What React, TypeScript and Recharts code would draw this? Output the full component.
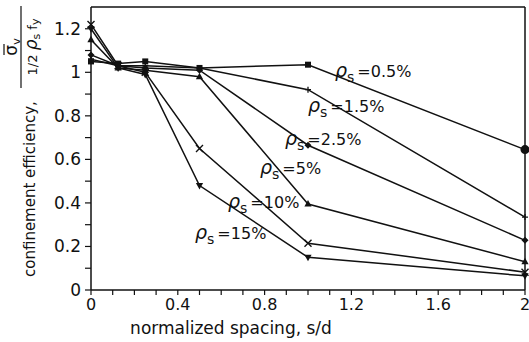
import React from 'react';
import { LineChart, Line, XAxis, YAxis, ReferenceLine } from 'recharts';

// Normalized tie spacing s/d at which confinement efficiency was evaluated
const spacing = [0, 0.125, 0.25, 0.5, 1, 2];

// Confinement efficiency for each transverse steel ratio ρs
const eff05 = [1.05, 1.04, 1.05, 1.02, 1.035, 0.645];
const eff15 = [1.06, 1.03, 1.03, 1.02, 0.92, 0.335];
const eff25 = [1.08, 1.03, 1.02, 1.01, 0.665, 0.228];
const eff5 = [1.15, 1.02, 1.01, 0.98, 0.395, 0.13];
const eff10 = [1.22, 1.03, 1.0, 0.65, 0.215, 0.082];
const eff15pct = [1.2, 1.02, 0.99, 0.48, 0.15, 0.065];

const ratioLabels = ['=0.5%', '=1.5%', '=2.5%', '=5%', '=10%', '=15%'];

const xTicks = [0, 0.1, 0.2, 0.3, 0.4, 0.5, 0.6, 0.7, 0.8, 0.9, 1, 1.1, 1.2, 1.3, 1.4, 1.5, 1.6, 1.7, 1.8, 1.9, 2];
const xLabelTicks = [0, 0.4, 0.8, 1.2, 1.6, 2];
const yTicks = [0, 0.1, 0.2, 0.3, 0.4, 0.5, 0.6, 0.7, 0.8, 0.9, 1, 1.1, 1.2];
const yLabelTicks = [0, 0.2, 0.4, 0.6, 0.8, 1, 1.2];

const data = spacing.map((s, i) => ({
  s,
  r05: eff05[i],
  r15: eff15[i],
  r25: eff25[i],
  r5: eff5[i],
  r10: eff10[i],
  r15p: eff15pct[i],
}));

const FONT = '"DejaVu Sans", Arial, sans-serif';
const INK = '#111';

const has = (list: number[], v: number) => list.some((t) => Math.abs(t - v) < 1e-6);
const fmt = (v: number) => String(Number(v.toFixed(1)));

const XTick = (props: any) => {
  const { x, y, payload } = props;
  if (!has(xLabelTicks, payload.value)) return <g />;
  return (
    <text x={x} y={y} dy={13} textAnchor="middle" fontSize={16} fontFamily={FONT} fill={INK}>
      {fmt(payload.value)}
    </text>
  );
};

const YTick = (props: any) => {
  const { x, y, payload } = props;
  if (!has(yLabelTicks, payload.value)) return <g />;
  return (
    <text x={x} y={y} dy={6} textAnchor="end" fontSize={17} fontFamily={FONT} fill={INK}>
      {fmt(payload.value)}
    </text>
  );
};

type Shape = 'square' | 'plus' | 'diamond' | 'triUp' | 'cross' | 'triDown';

const makeDot = (shape: Shape, lastAsCircle = false) => (props: any) => {
  const { cx, cy, index } = props;
  const k = `${shape}-${index}`;
  if (cx == null || cy == null) return <g key={k} />;
  if (lastAsCircle && index === spacing.length - 1) {
    return <circle key={k} cx={cx} cy={cy} r={4.5} fill={INK} />;
  }
  switch (shape) {
    case 'square':
      return <rect key={k} x={cx - 3} y={cy - 3} width={6} height={6} fill={INK} />;
    case 'plus':
      return (
        <path key={k} d={`M${cx - 3},${cy}H${cx + 3}M${cx},${cy - 3}V${cy + 3}`} stroke={INK} strokeWidth={1.3} />
      );
    case 'diamond':
      return (
        <path key={k} d={`M${cx},${cy - 3.5}L${cx + 3.5},${cy}L${cx},${cy + 3.5}L${cx - 3.5},${cy}Z`} fill={INK} />
      );
    case 'triUp':
      return (
        <path key={k} d={`M${cx},${cy - 4}L${cx + 3.6},${cy + 2.6}L${cx - 3.6},${cy + 2.6}Z`} fill={INK} />
      );
    case 'cross':
      return (
        <path
          key={k}
          d={`M${cx - 3.5},${cy - 3.5}L${cx + 3.5},${cy + 3.5}M${cx - 3.5},${cy + 3.5}L${cx + 3.5},${cy - 3.5}`}
          stroke={INK}
          strokeWidth={1.4}
        />
      );
    default:
      return (
        <path key={k} d={`M${cx},${cy + 4}L${cx + 3.6},${cy - 2.6}L${cx - 3.6},${cy - 2.6}Z`} fill={INK} />
      );
  }
};

const series: { key: string; shape: Shape; circleEnd?: boolean }[] = [
  { key: 'r05', shape: 'square', circleEnd: true },
  { key: 'r15', shape: 'plus' },
  { key: 'r25', shape: 'diamond' },
  { key: 'r5', shape: 'triUp' },
  { key: 'r10', shape: 'cross' },
  { key: 'r15p', shape: 'triDown' },
];

// Anchor (left of ρ, text baseline) for each ratio label
const labelAnchors = [
  [335, 77],
  [308, 112],
  [285, 145],
  [260, 174],
  [228, 208],
  [195, 239],
];

const RatioLabel = ({ x, y, text }: { x: number; y: number; text: string }) => (
  <text x={x} y={y} fontFamily={FONT} fill={INK}>
    <tspan fontSize={19} fontStyle="italic">ρ</tspan>
    <tspan fontSize={14} dy={5}>s</tspan>
    <tspan fontSize={16} dy={-5} dx={3}>{text}</tspan>
  </text>
);

export default function App() {
  return (
    <div style={{ position: 'absolute', left: 0, top: 0, width: 529, height: 342, background: '#fff' }}>
      <LineChart
        width={529}
        height={342}
        data={data}
        margin={{ top: 7, right: 4, bottom: 0, left: 0 }}
      >
        <XAxis
          type="number"
          dataKey="s"
          domain={[0, 2]}
          ticks={xTicks}
          interval={0}
          height={52}
          tick={<XTick />}
          tickSize={5}
          tickMargin={2}
          axisLine={{ stroke: INK, strokeWidth: 1.5 }}
          tickLine={{ stroke: INK, strokeWidth: 1.2 }}
        />
        <YAxis
          type="number"
          domain={[0, 1.3]}
          ticks={yTicks}
          interval={0}
          width={91}
          tick={<YTick />}
          tickSize={6}
          tickMargin={4}
          axisLine={{ stroke: INK, strokeWidth: 1.5 }}
          tickLine={{ stroke: INK, strokeWidth: 1.2 }}
        />
        <ReferenceLine y={1.3} stroke={INK} strokeWidth={1.5} ifOverflow="extendDomain" />
        <ReferenceLine x={2} stroke={INK} strokeWidth={1.5} ifOverflow="extendDomain" />
        {series.map((sr) => (
          <Line
            key={sr.key}
            dataKey={sr.key}
            type="linear"
            stroke={INK}
            strokeWidth={1.5}
            dot={makeDot(sr.shape, sr.circleEnd)}
            activeDot={false}
            isAnimationActive={false}
          />
        ))}
      </LineChart>
      <svg
        width={529}
        height={342}
        style={{ position: 'absolute', left: 0, top: 0, pointerEvents: 'none' }}
      >
        {labelAnchors.map(([x, y], i) => (
          <RatioLabel key={i} x={x} y={y} text={ratioLabels[i]} />
        ))}
        <text x={231} y={334} textAnchor="middle" fontSize={17} fontFamily={FONT} fill={INK}>
          normalized spacing, s/d
        </text>
        <g transform="rotate(-90)" fontFamily={FONT} fill={INK}>
          <text x={-277} y={35} fontSize={15}>
            confinement efficiency,
          </text>
          <text x={-47} y={17} textAnchor="middle" fontSize={17}>
            σ<tspan fontSize={11} dy={3}>v</tspan>
          </text>
          <line x1={-55} x2={-44} y1={4} y2={4} stroke={INK} strokeWidth={1.2} />
          <line x1={-88} x2={-6} y1={21} y2={21} stroke={INK} strokeWidth={1.2} />
          <text x={-47} y={37} textAnchor="middle" fontSize={13}>
            1/2 <tspan fontSize={17} fontStyle="italic">ρ</tspan>
            <tspan fontSize={11} dy={3}>s</tspan>
            <tspan dy={-3}> f</tspan>
            <tspan fontSize={11} dy={2}>y</tspan>
          </text>
        </g>
      </svg>
    </div>
  );
}
